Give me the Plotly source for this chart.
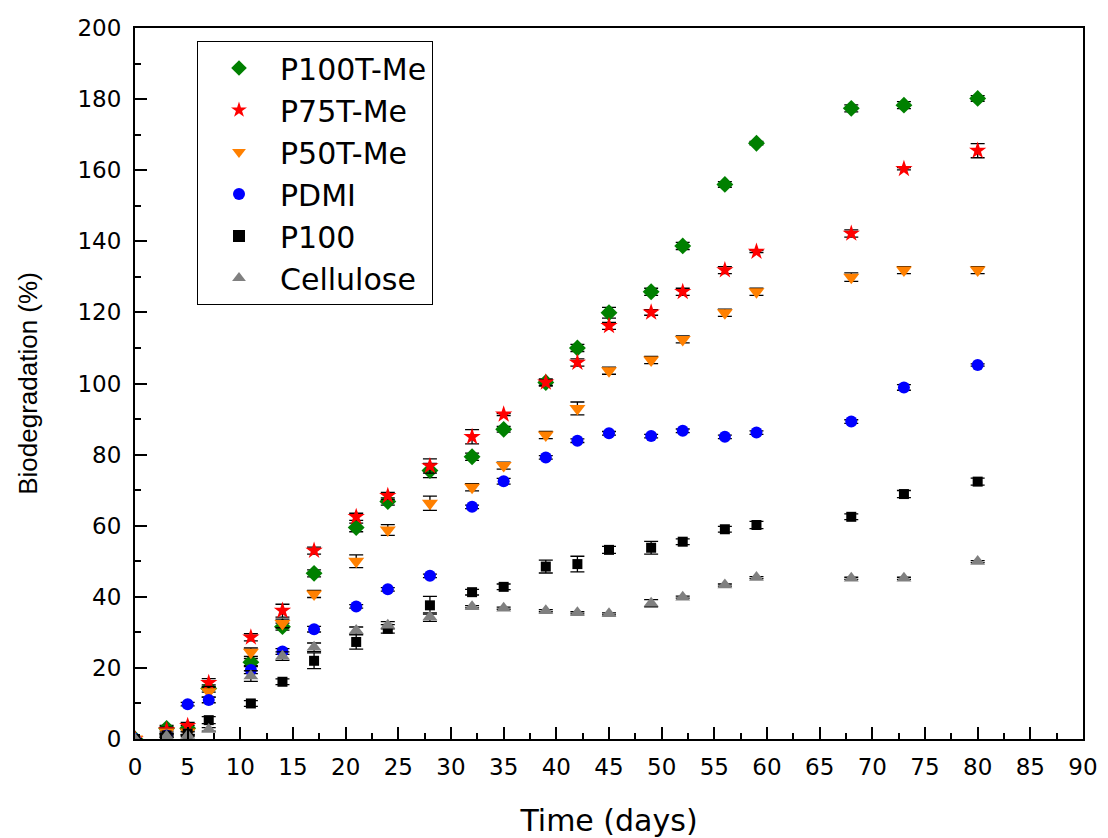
import plotly.graph_objects as go

days = [0, 3, 5, 7, 11, 14, 17, 21, 24, 28, 32, 35, 39, 42, 45, 49, 52, 56, 59, 68, 73, 80]

p100t_me = [0, 3.0, 3.0, 14.2, 21.6, 31.6, 46.6, 59.5, 66.8, 75.5, 79.4, 87.1, 100.3, 110.0, 119.9, 125.8, 138.7, 156.0, 167.6, 177.4, 178.3, 180.2]
p100t_me_err = [0, 0.8, 0.8, 1.0, 1.0, 1.0, 1.0, 1.2, 1.0, 2.0, 1.0, 0.8, 1.0, 1.0, 1.5, 1.0, 1.0, 0.8, 0.5, 1.0, 1.0, 0.8]

p75t_me = [0, 2.5, 3.7, 15.8, 28.6, 36.1, 53.0, 62.5, 68.4, 76.8, 85.0, 91.3, 100.3, 105.9, 116.2, 120.0, 125.8, 131.9, 137.1, 142.2, 160.4, 165.5]
p75t_me_err = [0, 0.8, 1.0, 1.2, 1.0, 1.8, 1.0, 1.0, 1.0, 2.0, 2.0, 0.3, 0.8, 1.0, 1.0, 0.8, 1.0, 1.0, 0.3, 1.0, 0.3, 2.0]

p50t_me = [0, 2.0, 2.0, 13.3, 24.4, 32.5, 40.8, 50.0, 58.8, 66.3, 70.8, 76.9, 85.5, 93.0, 103.6, 106.6, 112.4, 119.9, 125.8, 129.9, 131.9, 131.9]
p50t_me_err = [0, 0.8, 0.8, 1.5, 1.2, 1.2, 1.0, 1.8, 1.5, 2.0, 1.0, 1.0, 1.0, 1.8, 1.0, 1.0, 1.0, 1.0, 1.0, 1.2, 1.0, 1.0]

pdmi = [0, 1.0, 9.8, 11.0, 19.4, 24.6, 30.9, 37.3, 42.1, 45.9, 65.3, 72.5, 79.2, 83.9, 86.0, 85.2, 86.7, 85.0, 86.2, 89.3, 98.9, 105.2]
pdmi_err = [0, 0.5, 0.5, 0.8, 1.0, 0.8, 0.8, 0.5, 0.5, 0.5, 0.5, 0.8, 0.5, 0.5, 0.5, 0.5, 0.5, 0.5, 0.5, 0.5, 0.8, 0.3]

p100 = [0, 1.0, 1.5, 5.3, 10.0, 16.1, 22.0, 27.3, 31.0, 37.6, 41.3, 42.8, 48.5, 49.2, 53.2, 53.8, 55.5, 59.0, 60.2, 62.5, 68.9, 72.4]
p100_err = [0, 0.5, 0.5, 1.0, 0.8, 0.8, 2.2, 2.0, 1.2, 2.5, 0.8, 0.8, 1.8, 2.2, 1.0, 1.8, 0.8, 0.8, 1.0, 0.8, 1.0, 1.0]

cellulose = [0, 0.8, 1.0, 2.7, 17.7, 23.3, 25.8, 30.5, 32.0, 34.3, 37.2, 36.8, 36.1, 35.5, 35.2, 38.2, 39.9, 43.3, 45.4, 45.2, 45.2, 49.9]
cellulose_err = [0, 0.3, 0.3, 0.5, 1.5, 1.2, 1.2, 1.0, 1.0, 1.2, 0.3, 0.3, 0.3, 0.3, 0.3, 1.0, 0.3, 0.3, 0.3, 0.3, 0.3, 0.3]

series = [
    ("P100T-Me", p100t_me, p100t_me_err, "#008000", "diamond", 13),
    ("P75T-Me", p75t_me, p75t_me_err, "#ff0000", "star", 13),
    ("P50T-Me", p50t_me, p50t_me_err, "#ff8000", "triangle-down", 14),
    ("PDMI", pdmi, pdmi_err, "#0000ff", "circle", 12),
    ("P100", p100, p100_err, "#000000", "square", 10),
    ("Cellulose", cellulose, cellulose_err, "#808080", "triangle-up", 13),
]

fig = go.Figure()
for name, vals, errs, color, sym, size in series:
    fig.add_trace(go.Scatter(
        x=days, y=vals, mode="markers", name=name,
        marker=dict(color=color, symbol=sym, size=size, line=dict(width=0)),
        error_y=dict(type="data", array=errs, visible=True, color="black", thickness=1.3, width=7),
    ))

font = "DejaVu Sans, Liberation Sans, Arial, sans-serif"
fig.update_layout(
    width=1100, height=830,
    margin=dict(l=127, r=25, t=20, b=99),
    paper_bgcolor="white", plot_bgcolor="white",
    font=dict(family=font, color="black"),
    showlegend=True,
    legend=dict(
        x=0.0654, y=0.9817, xanchor="left", yanchor="top",
        bordercolor="black", borderwidth=1, bgcolor="white",
        font=dict(size=30, family=font), itemsizing="constant",
        itemwidth=72, tracegroupgap=0, entrywidth=180, entrywidthmode="pixels",
    ),
    xaxis=dict(
        range=[0, 90], tickmode="linear", tick0=0, dtick=5, automargin=False,
        ticks="inside", ticklen=12, tickwidth=2, tickcolor="black",
        minor=dict(ticks="inside", ticklen=6, tickwidth=2, tickcolor="black", dtick=2.5),
        showline=True, linewidth=2, linecolor="black", mirror=True,
        showgrid=False, zeroline=False, ticklabelstandoff=6,
        tickfont=dict(size=23, family=font),
        title=dict(text="Time (days)", font=dict(size=30, family=font), standoff=32),
    ),
    yaxis=dict(
        range=[0, 200], tickmode="linear", tick0=0, dtick=20, automargin=False,
        ticks="inside", ticklen=12, tickwidth=2, tickcolor="black",
        minor=dict(ticks="inside", ticklen=6, tickwidth=2, tickcolor="black", dtick=10),
        showline=True, linewidth=2, linecolor="black", mirror=True,
        showgrid=False, zeroline=False, ticklabelstandoff=7,
        tickfont=dict(size=23, family=font),
        title=dict(text="Biodegradation (%)", font=dict(size=26, family="Liberation Sans, Arial, sans-serif"), standoff=32),
    ),
)

fig.write_html("out.html")
